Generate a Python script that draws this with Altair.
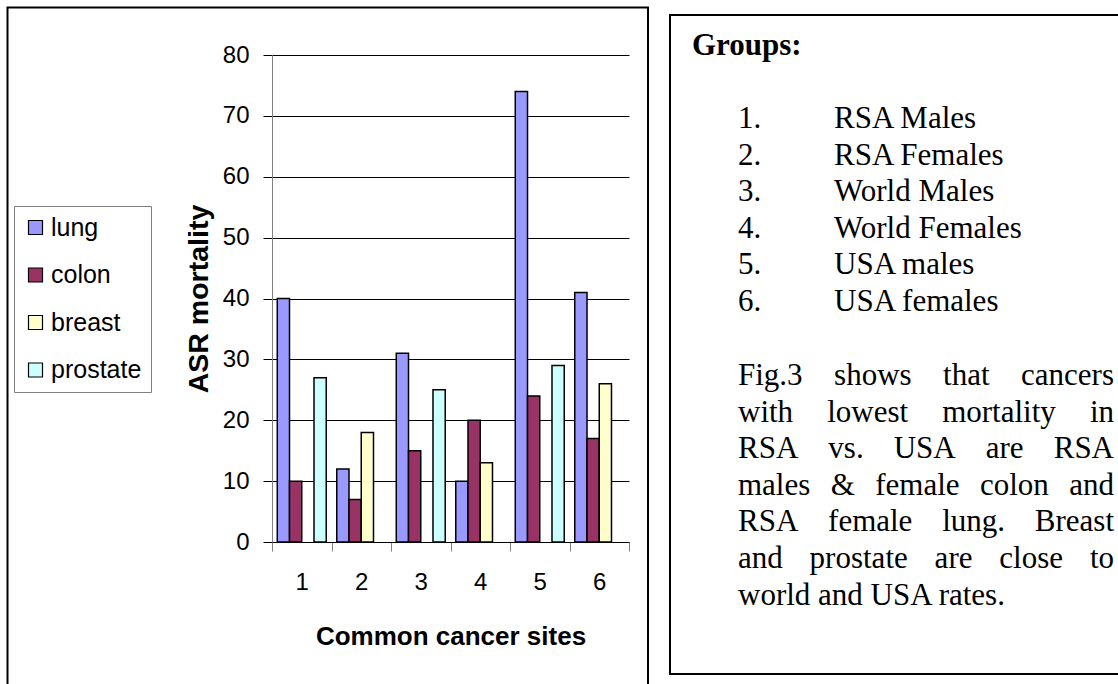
import altair as alt
import pandas as pd

# ---- data -------------------------------------------------------------
sites = ["1", "2", "3", "4", "5", "6"]
cancers = ["lung", "colon", "breast", "prostate"]
lung = [40, 12, 31, 10, 74, 41]
colon = [10, 7, 15, 20, 24, 17]
breast = [None, 18, None, 13, None, 26]
prostate = [27, None, 25, None, 29, None]
bar_colors = ["#9999FF", "#993366", "#FFFFCC", "#CCFFFF"]
y_ticks = [0, 10, 20, 30, 40, 50, 60, 70, 80]

group_names = ["RSA Males", "RSA Females", "World Males",
               "World Females", "USA males", "USA females"]
note_lines = [
    "Fig.3 shows that cancers",
    "with lowest mortality in",
    "RSA vs. USA are RSA",
    "males & female colon and",
    "RSA female lung. Breast",
    "and prostate are close to",
    "world and USA rates.",
]

rows = []
for cancer, vals in zip(cancers, [lung, colon, breast, prostate]):
    for site, v in zip(sites, vals):
        if v is not None:
            rows.append({"site": site, "cancer": cancer, "asr": v})
bars_df = pd.DataFrame(rows)

# ---- page geometry (plot area origin and size in page pixels) ----------
OX, OY = 272, 55
W, H = 357, 487
PAGE_W, PAGE_H = 1118, 684

SANS = "Liberation Sans"
SERIF = "Liberation Serif"
SERIF_SIZE = 31

# Times-compatible advance widths (per 1000 em) for justified text
TNR = {" ": 250, "&": 778, ".": 250, "3": 500, "A": 722, "B": 667, "F": 556,
       "R": 667, "S": 556, "U": 722, "a": 444, "b": 500, "c": 444, "d": 500,
       "e": 444, "f": 333, "g": 500, "h": 500, "i": 278, "l": 278, "m": 778,
       "n": 500, "o": 500, "p": 500, "r": 333, "s": 389, "t": 278, "u": 500,
       "v": 500, "w": 722, "y": 500}


def tw(s, size):
    return sum(TNR.get(c, 500) for c in s) / 1000 * size


# ---- text panel contents ----------------------------------------------
list_rows = []
for i, name in enumerate(group_names):
    base = 128 + 36.6 * i
    list_rows.append({"t": f"{i + 1}.", "px": 738 - OX, "py": base - OY})
    list_rows.append({"t": name, "px": 834 - OX, "py": base - OY})

LEFT, RIGHT = 738, 1114
for j, line in enumerate(note_lines):
    base = 385 + 36.6 * j
    words = line.split(" ")
    if j == len(note_lines) - 1:
        list_rows.append({"t": line, "px": LEFT - OX, "py": base - OY})
        continue
    total = sum(tw(w, SERIF_SIZE) for w in words)
    gap = (RIGHT - LEFT - total) / (len(words) - 1)
    x = LEFT
    for w in words:
        list_rows.append({"t": w, "px": x - OX, "py": base - OY})
        x += tw(w, SERIF_SIZE) + gap
text_df = pd.DataFrame(list_rows)
head_df = pd.DataFrame([{"t": "Groups:", "px": 692 - OX, "py": 55 - OY}])
one = pd.DataFrame([{"k": 0}])

# ---- frames around the two panels --------------------------------------
chart_frame = alt.Chart(one).mark_rect(filled=False, stroke="black", strokeWidth=2).encode(
    x=alt.value(7.5 - OX), x2=alt.value(648 - OX),
    y=alt.value(7.5 - OY), y2=alt.value(PAGE_H + 10 - OY),
)
note_frame = alt.Chart(one).mark_rect(filled=False, stroke="black", strokeWidth=2).encode(
    x=alt.value(670 - OX), x2=alt.value(PAGE_W + 10 - OX),
    y=alt.value(15 - OY), y2=alt.value(674 - OY),
)

# ---- grouped bars -------------------------------------------------------
bars = alt.Chart(bars_df).mark_bar(stroke="black", strokeWidth=1.5).encode(
    x=alt.X(
        "site:N", sort=sites,
        scale=alt.Scale(paddingInner=0, paddingOuter=0),
        axis=alt.Axis(
            title="Common cancer sites", labelAngle=0, grid=False,
            tickBand="extent", tickSize=9, tickColor="#808080",
            domainColor="black", labelFont=SANS, labelFontSize=24,
            labelColor="black", labelPadding=19, titleFont=SANS,
            titleFontSize=26, titleFontWeight="bold", titleColor="black",
            titlePadding=29,
        ),
    ),
    xOffset=alt.XOffset(
        "cancer:N", sort=cancers,
        scale=alt.Scale(domain=cancers, paddingInner=0, paddingOuter=0.43),
    ),
    y=alt.Y(
        "asr:Q",
        scale=alt.Scale(domain=[0, 80], nice=False),
        axis=alt.Axis(
            title="ASR mortality", values=y_ticks, grid=True,
            gridColor="black", gridOpacity=1, gridWidth=1,
            tickSize=9, tickColor="black", domainColor="#808080",
            labelFont=SANS, labelFontSize=24, labelColor="black",
            labelPadding=14, titleFont=SANS, titleFontSize=28.5,
            titleFontWeight="bold", titleColor="black", titlePadding=9,
        ),
    ),
    color=alt.Color(
        "cancer:N",
        scale=alt.Scale(domain=cancers, range=bar_colors),
        legend=alt.Legend(
            title=None, orient="none", legendX=14 - OX, legendY=206 - OY,
            strokeColor="#808080", fillColor="white", padding=9,
            symbolType="square", symbolSize=196, symbolStrokeColor="black",
            symbolStrokeWidth=1.2, symbolOpacity=1, labelFont=SANS,
            labelFontSize=25, labelColor="black", labelOffset=3,
            rowPadding=21.5,
        ),
    ),
)

# ---- text panel ---------------------------------------------------------
heading = alt.Chart(head_df).mark_text(
    font=SERIF, fontSize=31, fontWeight="bold", align="left",
    baseline="alphabetic", color="black",
).encode(
    x=alt.X("px:Q", scale=None, axis=None),
    y=alt.Y("py:Q", scale=None, axis=None),
    text="t:N",
)
body = alt.Chart(text_df).mark_text(
    font=SERIF, fontSize=SERIF_SIZE, align="left",
    baseline="alphabetic", color="black",
).encode(
    x=alt.X("px:Q", scale=None, axis=None),
    y=alt.Y("py:Q", scale=None, axis=None),
    text="t:N",
)

chart = alt.layer(chart_frame, note_frame, bars, heading, body).resolve_scale(
    x="independent", y="independent"
).properties(
    width=W, height=H,
    autosize=alt.AutoSizeParams(type="none"),
    padding={"left": OX, "top": OY, "right": PAGE_W - OX - W, "bottom": PAGE_H - OY - H},
    background="white",
).configure_view(strokeWidth=0)

chart.save("out.html", embed_options={"renderer": "svg", "actions": False})
